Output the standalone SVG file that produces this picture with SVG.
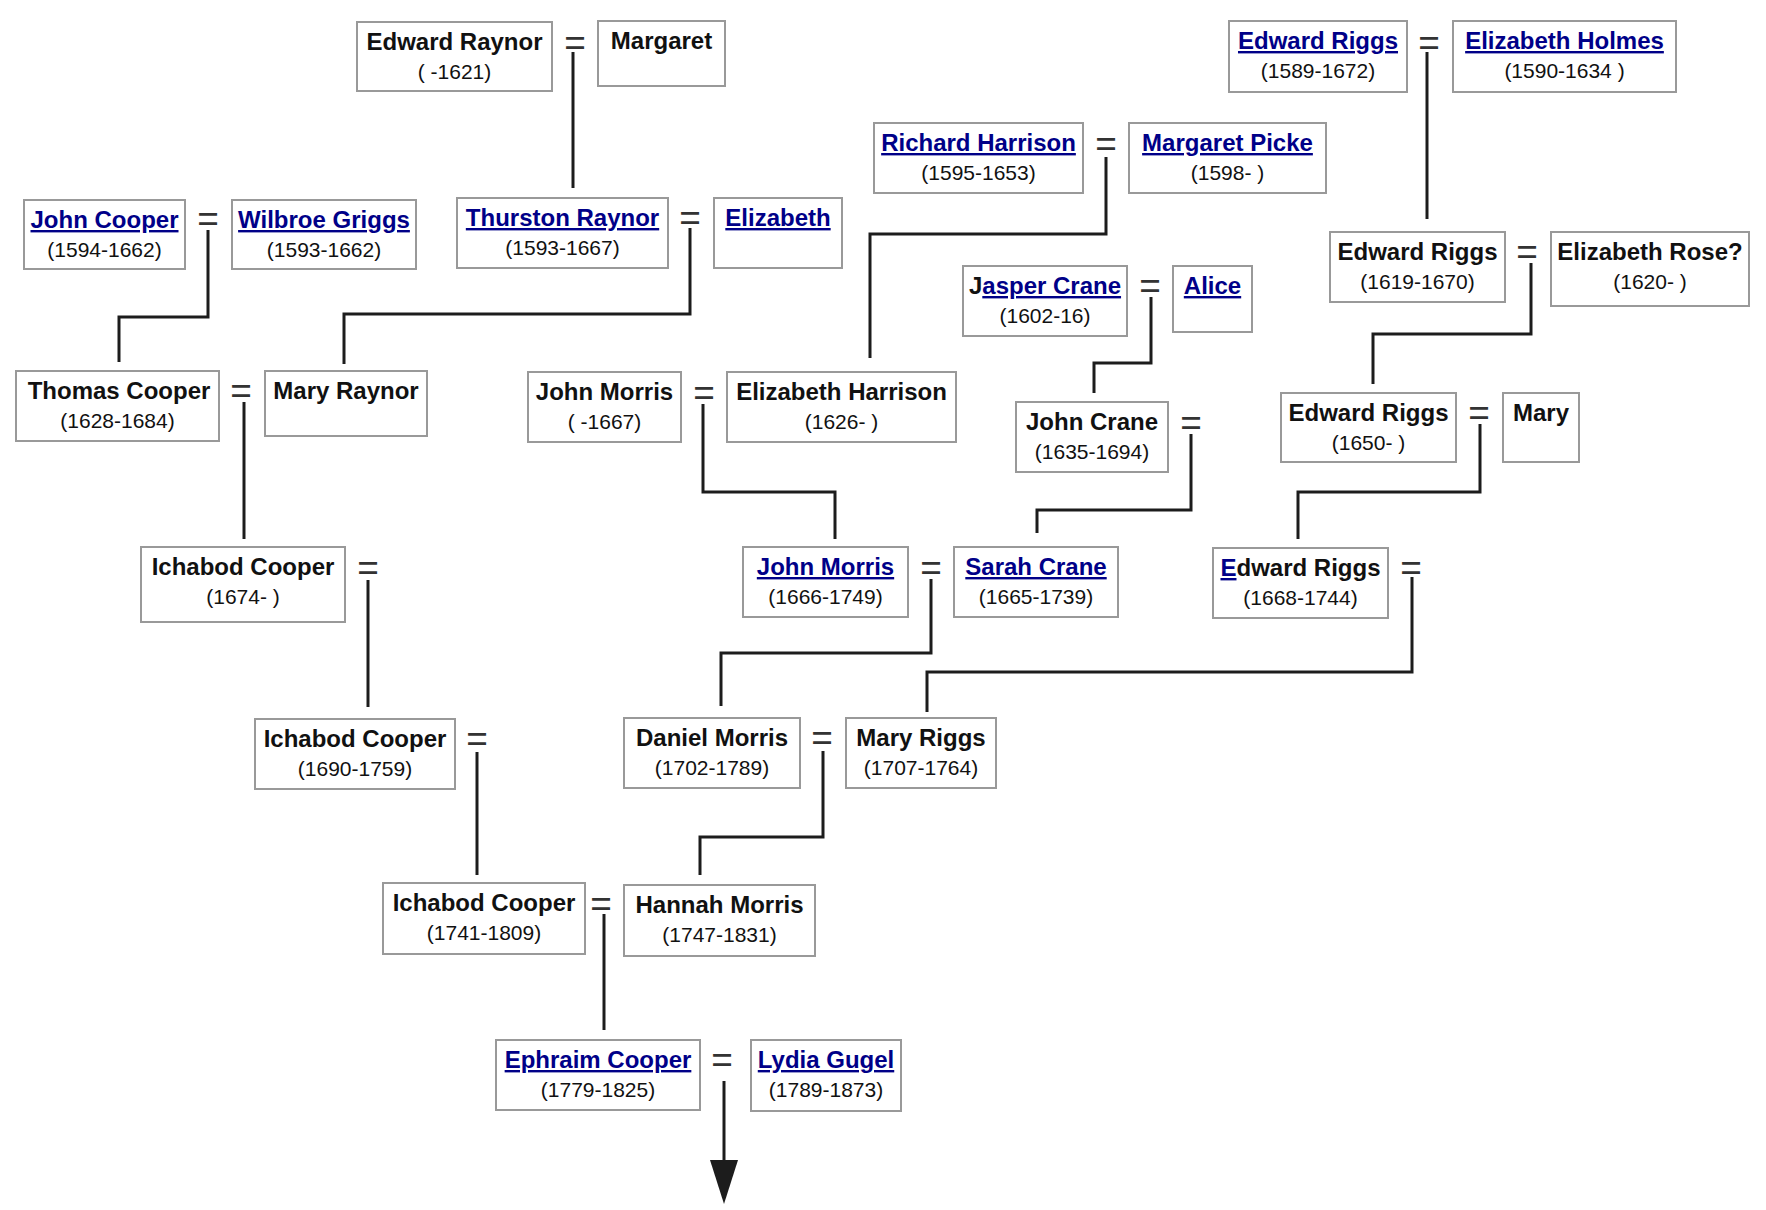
<svg xmlns="http://www.w3.org/2000/svg" width="1766" height="1210" viewBox="0 0 1766 1210">
<style>
.box{fill:#fff;stroke:#999;stroke-width:2}
text{font-family:"Liberation Sans",Arial,sans-serif;text-anchor:middle;fill:#111}
.n{font-size:24px;font-weight:bold}
.d{font-size:21px}
.l{fill:#000088;text-decoration:underline}
.k{fill:#111;text-decoration:none}
.eq{font-size:37px;fill:#333}
.c{fill:none;stroke:#1c1c1c;stroke-width:3;stroke-linejoin:miter}
</style>
<defs>
<marker id="arr" markerUnits="userSpaceOnUse" markerWidth="44" markerHeight="28" viewBox="0 0 44 28" refX="0" refY="14" orient="auto">
<polygon points="0,0 44,14 0,28" fill="#1c1c1c"/>
</marker>
</defs>
<rect width="1766" height="1210" fill="#fff"/>

<g id="connectors">
<path class="c" d="M573 52 V188"/>
<path class="c" d="M208 230 V317 H119 V362"/>
<path class="c" d="M690 228 V314 H344 V364"/>
<path class="c" d="M1106 157 V234 H870 V358"/>
<path class="c" d="M1427 52 V219"/>
<path class="c" d="M1151 297 V363 H1094 V393"/>
<path class="c" d="M1531 263 V334 H1373 V384"/>
<path class="c" d="M244 402 V539"/>
<path class="c" d="M703 404 V492 H835 V539"/>
<path class="c" d="M1191 434 V510 H1037 V533"/>
<path class="c" d="M1480 424 V492 H1298 V539"/>
<path class="c" d="M368 580 V707"/>
<path class="c" d="M931 579 V653 H721 V706"/>
<path class="c" d="M1412 577 V672 H927 V712"/>
<path class="c" d="M477 752 V875"/>
<path class="c" d="M823 751 V837 H700 V875"/>
<path class="c" d="M604 914 V1030"/>
<path class="c" d="M724 1081 V1160" marker-end="url(#arr)"/>
</g>

<g id="marriages">
<text class="eq" x="575" y="55">=</text>
<text class="eq" x="1429" y="55">=</text>
<text class="eq" x="1106" y="156">=</text>
<text class="eq" x="208" y="231">=</text>
<text class="eq" x="690" y="230">=</text>
<text class="eq" x="1527" y="264">=</text>
<text class="eq" x="1150" y="298">=</text>
<text class="eq" x="241" y="403">=</text>
<text class="eq" x="704" y="405">=</text>
<text class="eq" x="1479" y="425">=</text>
<text class="eq" x="1191" y="435">=</text>
<text class="eq" x="368" y="580">=</text>
<text class="eq" x="931" y="580">=</text>
<text class="eq" x="1411" y="580">=</text>
<text class="eq" x="477" y="751">=</text>
<text class="eq" x="822" y="750">=</text>
<text class="eq" x="601" y="916">=</text>
<text class="eq" x="722" y="1072">=</text>
</g>

<g id="edward-raynor"><rect class="box" x="357" y="22" width="195" height="69"/><text class="n" x="454.5" y="50">Edward Raynor</text><text class="d" x="454.5" y="79">( -1621)</text></g>
<g id="margaret"><rect class="box" x="598" y="21" width="127" height="65"/><text class="n" x="661.5" y="49">Margaret</text></g>
<g id="edward-riggs-1589"><rect class="box" x="1229" y="21" width="178" height="71"/><text class="n l" x="1318" y="49">Edward Riggs</text><text class="d" x="1318" y="78">(1589-1672)</text></g>
<g id="elizabeth-holmes"><rect class="box" x="1453" y="21" width="223" height="71"/><text class="n l" x="1564.5" y="49">Elizabeth Holmes</text><text class="d" x="1564.5" y="78">(1590-1634 )</text></g>

<g id="richard-harrison"><rect class="box" x="874" y="123" width="209" height="70"/><text class="n l" x="978.5" y="151">Richard Harrison</text><text class="d" x="978.5" y="180">(1595-1653)</text></g>
<g id="margaret-picke"><rect class="box" x="1129" y="123" width="197" height="70"/><text class="n l" x="1227.5" y="151">Margaret Picke</text><text class="d" x="1227.5" y="180">(1598- )</text></g>

<g id="john-cooper"><rect class="box" x="24" y="200" width="161" height="69"/><text class="n l" x="104.5" y="228">John Cooper</text><text class="d" x="104.5" y="257">(1594-1662)</text></g>
<g id="wilbroe-griggs"><rect class="box" x="232" y="200" width="184" height="69"/><text class="n l" x="324" y="228">Wilbroe Griggs</text><text class="d" x="324" y="257">(1593-1662)</text></g>
<g id="thurston-raynor"><rect class="box" x="457" y="198" width="211" height="70"/><text class="n l" x="562.5" y="226">Thurston Raynor</text><text class="d" x="562.5" y="255">(1593-1667)</text></g>
<g id="elizabeth"><rect class="box" x="714" y="198" width="128" height="70"/><text class="n l" x="778" y="226">Elizabeth</text></g>
<g id="edward-riggs-1619"><rect class="box" x="1330" y="232" width="175" height="70"/><text class="n" x="1417.5" y="260">Edward Riggs</text><text class="d" x="1417.5" y="289">(1619-1670)</text></g>
<g id="elizabeth-rose"><rect class="box" x="1551" y="232" width="198" height="74"/><text class="n" x="1650" y="260">Elizabeth Rose?</text><text class="d" x="1650" y="289">(1620- )</text></g>

<g id="jasper-crane"><rect class="box" x="963" y="266" width="164" height="70"/><text class="n" x="1045" y="294"><tspan class="k">J</tspan><tspan class="l">asper Crane</tspan></text><text class="d" x="1045" y="323">(1602-16)</text></g>
<g id="alice"><rect class="box" x="1173" y="266" width="79" height="66"/><text class="n l" x="1212.5" y="294">Alice</text></g>

<g id="thomas-cooper"><rect class="box" x="16" y="371" width="203" height="70"/><text class="n" x="119" y="399">Thomas Cooper</text><text class="d" x="117.5" y="428">(1628-1684)</text></g>
<g id="mary-raynor"><rect class="box" x="265" y="371" width="162" height="65"/><text class="n" x="346" y="399">Mary Raynor</text></g>
<g id="john-morris-1667"><rect class="box" x="528" y="372" width="153" height="70"/><text class="n" x="604.5" y="400">John Morris</text><text class="d" x="604.5" y="429">( -1667)</text></g>
<g id="elizabeth-harrison"><rect class="box" x="727" y="372" width="229" height="70"/><text class="n" x="841.5" y="400">Elizabeth Harrison</text><text class="d" x="841.5" y="429">(1626- )</text></g>
<g id="john-crane"><rect class="box" x="1016" y="402" width="152" height="70"/><text class="n" x="1092" y="430">John Crane</text><text class="d" x="1092" y="459">(1635-1694)</text></g>
<g id="edward-riggs-1650"><rect class="box" x="1281" y="393" width="175" height="69"/><text class="n" x="1368.5" y="421">Edward Riggs</text><text class="d" x="1368.5" y="450">(1650- )</text></g>
<g id="mary"><rect class="box" x="1503" y="393" width="76" height="69"/><text class="n" x="1541" y="421">Mary</text></g>

<g id="ichabod-cooper-1674"><rect class="box" x="141" y="547" width="204" height="75"/><text class="n" x="243" y="575">Ichabod Cooper</text><text class="d" x="243" y="604">(1674- )</text></g>
<g id="john-morris-1666"><rect class="box" x="743" y="547" width="165" height="70"/><text class="n l" x="825.5" y="575">John Morris</text><text class="d" x="825.5" y="604">(1666-1749)</text></g>
<g id="sarah-crane"><rect class="box" x="954" y="547" width="164" height="70"/><text class="n l" x="1036" y="575">Sarah Crane</text><text class="d" x="1036" y="604">(1665-1739)</text></g>
<g id="edward-riggs-1668"><rect class="box" x="1213" y="548" width="175" height="70"/><text class="n" x="1300.5" y="576"><tspan class="l">E</tspan><tspan class="k">dward Riggs</tspan></text><text class="d" x="1300.5" y="605">(1668-1744)</text></g>

<g id="ichabod-cooper-1690"><rect class="box" x="255" y="719" width="200" height="70"/><text class="n" x="355" y="747">Ichabod Cooper</text><text class="d" x="355" y="776">(1690-1759)</text></g>
<g id="daniel-morris"><rect class="box" x="624" y="718" width="176" height="70"/><text class="n" x="712" y="746">Daniel Morris</text><text class="d" x="712" y="775">(1702-1789)</text></g>
<g id="mary-riggs"><rect class="box" x="846" y="718" width="150" height="70"/><text class="n" x="921" y="746">Mary Riggs</text><text class="d" x="921" y="775">(1707-1764)</text></g>

<g id="ichabod-cooper-1741"><rect class="box" x="383" y="883" width="202" height="71"/><text class="n" x="484" y="911">Ichabod Cooper</text><text class="d" x="484" y="940">(1741-1809)</text></g>
<g id="hannah-morris"><rect class="box" x="624" y="885" width="191" height="71"/><text class="n" x="719.5" y="913">Hannah Morris</text><text class="d" x="719.5" y="942">(1747-1831)</text></g>

<g id="ephraim-cooper"><rect class="box" x="496" y="1040" width="204" height="70"/><text class="n l" x="598" y="1068">Ephraim Cooper</text><text class="d" x="598" y="1097">(1779-1825)</text></g>
<g id="lydia-gugel"><rect class="box" x="751" y="1040" width="150" height="71"/><text class="n l" x="826" y="1068">Lydia Gugel</text><text class="d" x="826" y="1097">(1789-1873)</text></g>
</svg>
